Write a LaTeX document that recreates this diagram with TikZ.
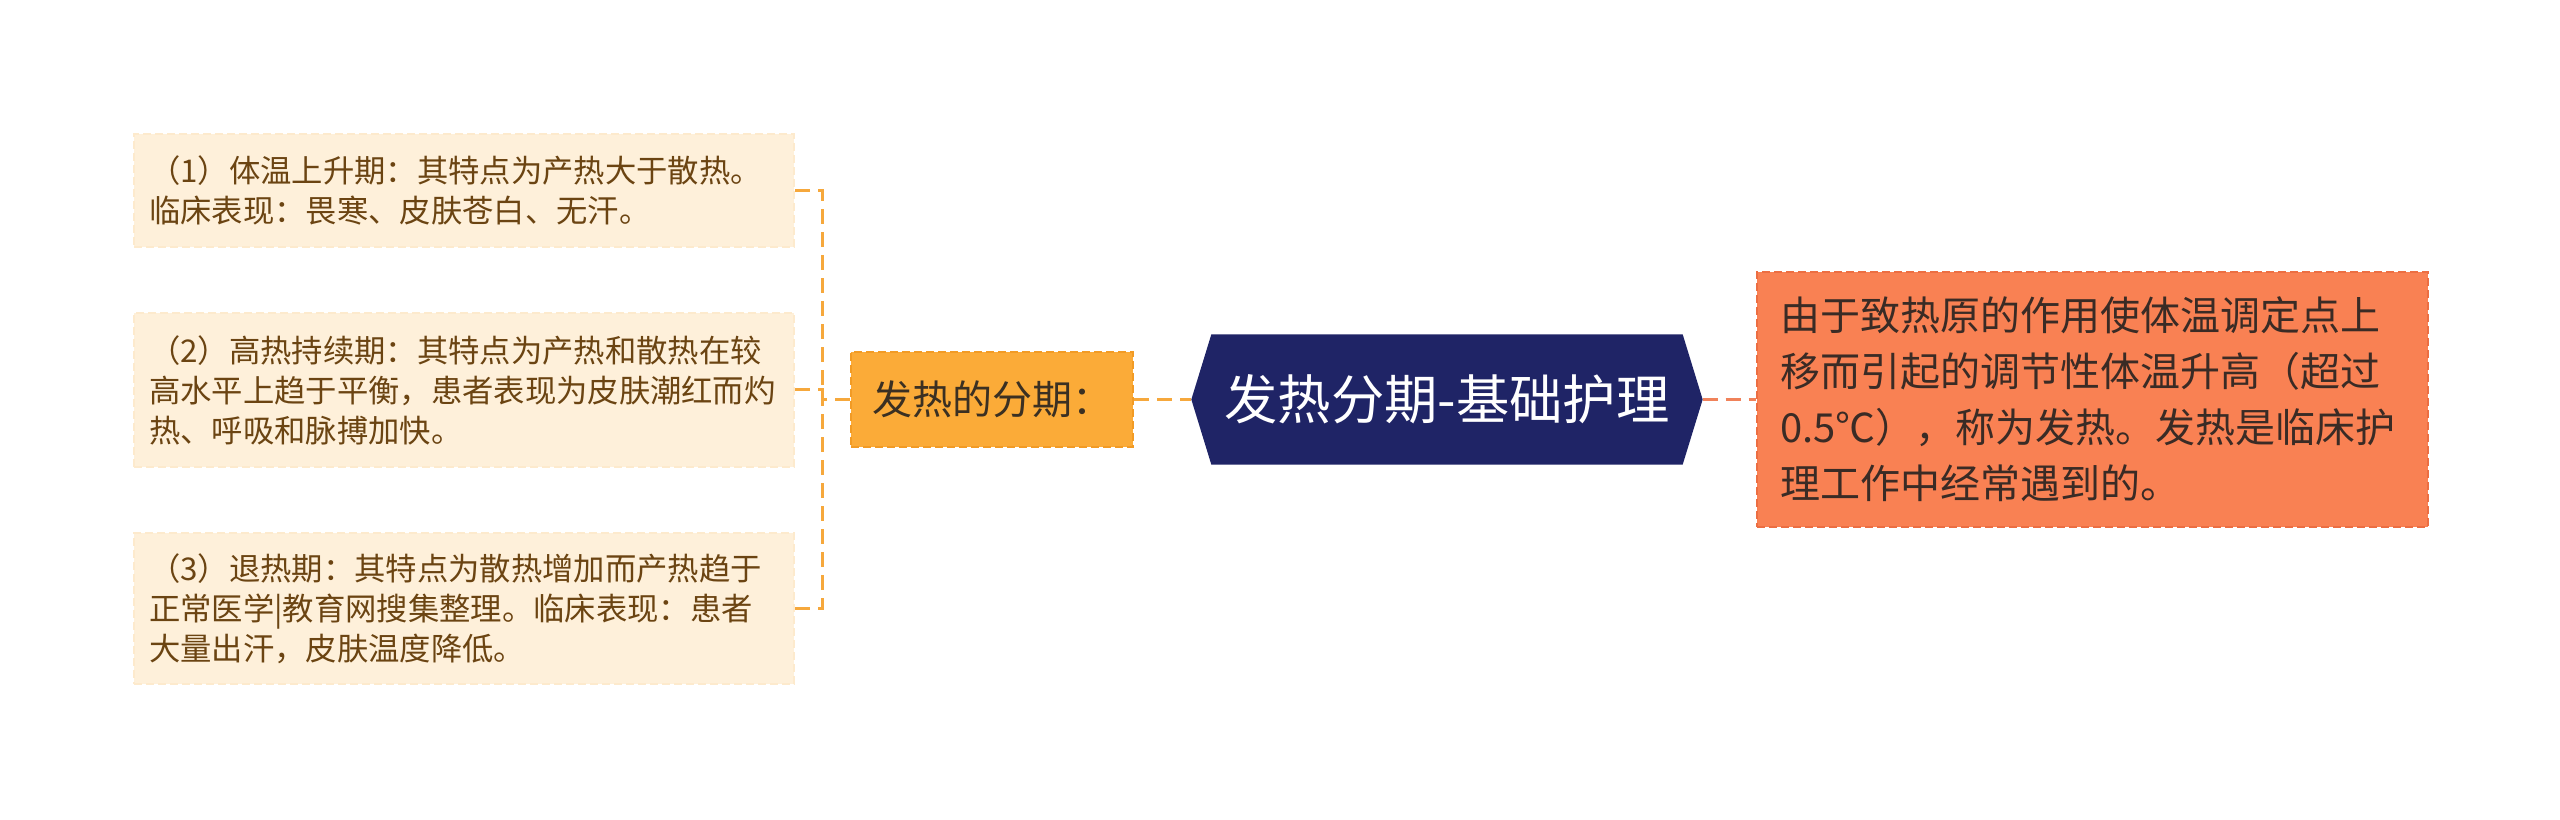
\documentclass[tikz,border=0pt]{standalone}
\usepackage{fontspec}
\setmainfont{Noto Sans CJK SC}
\usetikzlibrary{calc,backgrounds}
\definecolor{cream}{HTML}{FEF0DA}
\definecolor{creamline}{HTML}{FDEACD}
\definecolor{leaftext}{HTML}{6B4412}
\definecolor{amber}{HTML}{FBAB38}
\definecolor{amberline}{HTML}{F29B25}
\definecolor{ambertext}{HTML}{3B3022}
\definecolor{navy}{HTML}{1F2466}
\definecolor{coral}{HTML}{F98153}
\definecolor{coralline}{HTML}{EC6E42}
\definecolor{coraltext}{HTML}{3A2B25}
\definecolor{lnkamber}{HTML}{F6A83C}
\definecolor{lnkcoral}{HTML}{F0825A}

\begin{document}
\begin{tikzpicture}[x=0.3pt,y=-0.3pt,
  leaf/.style={fill=cream,draw=creamline,line width=0.6pt,dash pattern=on 2.4pt off 1.2pt,
    text=leaftext,text width=189pt,inner xsep=4.5pt,inner ysep=0pt,align=left,
    font=\fontsize{9.4pt}{12pt}\selectfont},
  stage/.style={fill=amber,draw=amberline,line width=0.6pt,dash pattern=on 2.4pt off 1.2pt,
    text=ambertext,minimum width=84.6pt,minimum height=28.5pt,inner sep=0pt,
    font=\fontsize{12pt}{14pt}\selectfont},
  rootbox/.style={text=white,minimum width=141pt,minimum height=38.7pt,inner sep=0pt,
    font=\fontsize{16pt}{18pt}\selectfont},
  defbox/.style={fill=coral,draw=coralline,line width=0.6pt,dash pattern=on 2.4pt off 1.2pt,
    text=coraltext,text width=187.5pt,inner xsep=6.9pt,inner ysep=0pt,align=left,
    minimum height=76.5pt,font=\fontsize{12pt}{16.8pt}\selectfont},
  lnk/.style={draw=lnkamber,line width=0.9pt,dash pattern=on 4.5pt off 2.4pt},
  lnkr/.style={draw=lnkcoral,line width=0.9pt,dash pattern=on 4.5pt off 2.4pt}]
\useasboundingbox (0,0) rectangle (2560,820);

\node[leaf,minimum height=33.9pt] (p1) at (464,190.5)
  {（1）体温上升期：其特点为产热大于散热。\\临床表现：畏寒、皮肤苍白、无汗。};
\node[leaf,minimum height=46.2pt] (p2) at (464,390)
  {（2）高热持续期：其特点为产热和散热在较\\高水平上趋于平衡，患者表现为皮肤潮红而灼\\热、呼吸和脉搏加快。};
\node[leaf,minimum height=45.3pt] (p3) at (464,608.5)
  {（3）退热期：其特点为散热增加而产热趋于\\正常医学|教育网搜集整理。临床表现：患者\\大量出汗，皮肤温度降低。};

\node[stage] (fq) at (992,399.5) {发热的分期：};
\node[rootbox] (root) at (1447,399.5) {发热分期-基础护理};
\node[defbox] (def) at (2092.5,399.5)
  {由于致热原的作用使体温调定点上\\移而引起的调节性体温升高（超过\\0.5℃），称为发热。发热是临床护\\理工作中经常遇到的。};

\coordinate (rootL) at ($(root.west)+(-20,0)$);
\coordinate (rootR) at ($(root.east)+(20,0)$);
\coordinate (bar) at (822,399.5);

\begin{scope}[on background layer]
  \fill[white] (0,0) rectangle (2560,820);
  \fill[navy] (rootL) -- (root.north west) -- (root.north east) -- (rootR)
    -- (root.south east) -- (root.south west) -- cycle;
\end{scope}

\draw[lnk] (fq.west) -- (bar);
\foreach \n in {p1,p2,p3}
  \draw[lnk] (\n.east) -| (bar);
\draw[lnk] (fq.east) -- (rootL);
\draw[lnkr] (rootR) -- (def.west);
\end{tikzpicture}
\end{document}
